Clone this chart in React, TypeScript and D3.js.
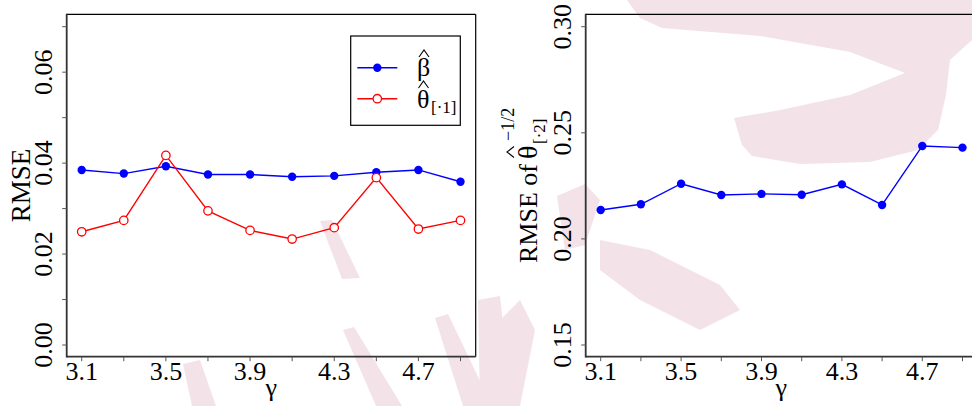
import React from "react";
import * as d3 from "d3";

// ---------- data ----------
const gamma = [3.1, 3.3, 3.5, 3.7, 3.9, 4.1, 4.3, 4.5, 4.7, 4.9];
const gammaLabels = [3.1, 3.5, 3.9, 4.3, 4.7];
const rmseBeta = [0.0385, 0.0377, 0.0393, 0.0375, 0.0375, 0.037, 0.0372, 0.038, 0.0385, 0.0359];
const rmseTheta1 = [0.0249, 0.0274, 0.0417, 0.0295, 0.0252, 0.0233, 0.0258, 0.0368, 0.0255, 0.0274];
const rmseTheta2 = [0.2136, 0.2163, 0.226, 0.2207, 0.2212, 0.2208, 0.2257, 0.216, 0.2438, 0.243];
const leftYTicks = [0, 0.01, 0.02, 0.03, 0.04, 0.05, 0.06, 0.07];
const leftYLabels = [0, 0.02, 0.04, 0.06];
const rightYTicks = [0.15, 0.2, 0.25, 0.3];

// decorative background watermark (not data)
const watermark: [number, number][][] = [
  [[627, 0], [640, 18], [662, 28], [760, 36], [850, 52], [905, 73], [850, 95], [780, 110], [734, 118], [742, 145], [752, 156], [800, 164], [870, 162], [918, 150], [938, 130], [946, 95], [950, 60], [972, 40], [972, 0]],
  [[183, 364], [200, 360], [216, 406], [192, 406]],
  [[320, 221], [332, 220], [360, 278], [342, 279]],
  [[343, 330], [354, 327], [402, 406], [376, 406]],
  [[435, 318], [448, 314], [492, 406], [463, 406]],
  [[478, 300], [500, 296], [512, 406], [480, 406]],
  [[557, 196], [585, 184], [600, 200], [585, 245], [565, 250]],
  [[600, 240], [650, 250], [720, 285], [740, 310], [700, 330], [640, 300], [600, 270]],
  [[490, 330], [520, 300], [535, 330], [520, 406], [490, 406]],
];

const FONT = "'Liberation Serif', 'Times New Roman', serif";
const BLUE = "#0000ff";
const RED = "#ff0000";

function Hat({ cx, y, w = 10, h = 7 }: { cx: number; y: number; w?: number; h?: number }) {
  return (
    <path
      d={`M${cx - w / 2},${y} L${cx},${y - h} L${cx + w / 2},${y}`}
      fill="none"
      stroke="#000"
      strokeWidth={1.1}
    />
  );
}

type PanelProps = {
  left: number;
  right: number;
  top: number;
  bottom: number;
  y: d3.ScaleLinear<number, number>;
  x: d3.ScaleLinear<number, number>;
  yTicks: number[];
  yLabels: number[];
  children?: React.ReactNode;
};

function Panel({ left, right, top, bottom, x, y, yTicks, yLabels, children }: PanelProps) {
  const fmtY = d3.format(".2f");
  const fmtX = d3.format(".1f");
  return (
    <g>
      {children}
      {/* box */}
      <line x1={left} x2={right} y1={top} y2={top} stroke="#000" strokeWidth={1.2} />
      <line x1={right} x2={right} y1={top} y2={bottom} stroke="#000" strokeWidth={1.2} />
      <line x1={left} x2={left} y1={top - 0.6} y2={bottom + 0.8} stroke="#333" strokeWidth={1.8} />
      <line x1={left} x2={right} y1={bottom} y2={bottom} stroke="#333" strokeWidth={1.8} />
      {/* y ticks */}
      {yTicks.map((t) => (
        <line key={"yt" + t} x1={left - 4.5} x2={left} y1={y(t)} y2={y(t)} stroke="#555" strokeWidth={1} />
      ))}
      {yLabels.map((t) => (
        <text
          key={"yl" + t}
          transform={`translate(${left - 15},${y(t)}) rotate(-90)`}
          textAnchor="middle"
          fontFamily={FONT}
          fontSize={26}
          fill="#000"
        >
          {fmtY(t)}
        </text>
      ))}
      {/* x ticks */}
      {gamma.map((g) => (
        <line key={"xt" + g} x1={x(g)} x2={x(g)} y1={bottom} y2={bottom + 4.5} stroke="#555" strokeWidth={1} />
      ))}
      {gammaLabels.map((g) => (
        <text key={"xl" + g} x={x(g)} y={380} textAnchor="middle" fontFamily={FONT} fontSize={26} fill="#000">
          {fmtX(g)}
        </text>
      ))}
      <text x={(left + right) / 2} y={396} textAnchor="middle" fontFamily={FONT} fontSize={26} fill="#000">
        γ
      </text>
    </g>
  );
}

export default function App() {
  const W = 972;
  const H = 406;

  // left panel
  const L1 = 66.7, R1 = 475.7, T = 14.3, B = 356.7;
  const x1 = d3.scaleLinear().domain([3.1, 4.9]).range([81.7, 460.5]);
  const y1 = d3.scaleLinear().domain([0, 0.07]).range([345, 26.7]);

  // right panel
  const L2 = 585.7, R2 = 977;
  const x2 = d3.scaleLinear().domain([3.1, 4.9]).range([600.7, 962.5]);
  const y2 = d3.scaleLinear().domain([0.15, 0.3]).range([345, 26.7]);

  const lineBeta = d3
    .line<number>()
    .x((_, i) => x1(gamma[i]))
    .y((d) => y1(d));
  const lineTheta2 = d3
    .line<number>()
    .x((_, i) => x2(gamma[i]))
    .y((d) => y2(d));

  const wm = d3.line<[number, number]>().curve(d3.curveLinearClosed);

  return (
    <svg
      width={W}
      height={H}
      viewBox={`0 0 ${W} ${H}`}
      style={{ position: "absolute", left: 0, top: 0, background: "#fff" }}
    >
      <rect x={0} y={0} width={W} height={H} fill="#fff" />
      {watermark.map((p, i) => (
        <path key={"wm" + i} d={wm(p) || ""} fill="#f3e3e8" />
      ))}

      {/* Left panel */}
      <Panel left={L1} right={R1} top={T} bottom={B} x={x1} y={y1} yTicks={leftYTicks} yLabels={leftYLabels}>
        <path d={lineBeta(rmseBeta) || ""} fill="none" stroke={BLUE} strokeWidth={1.4} />
        {rmseBeta.map((v, i) => (
          <circle key={"b" + i} cx={x1(gamma[i])} cy={y1(v)} r={4.2} fill={BLUE} />
        ))}
        <path d={lineBeta(rmseTheta1) || ""} fill="none" stroke={RED} strokeWidth={1.4} />
        {rmseTheta1.map((v, i) => (
          <circle key={"t" + i} cx={x1(gamma[i])} cy={y1(v)} r={4.2} fill="#fff" stroke={RED} strokeWidth={1.3} />
        ))}
      </Panel>
      <text
        transform={`translate(30,${(T + B) / 2}) rotate(-90)`}
        textAnchor="middle"
        fontFamily={FONT}
        fontSize={27}
        fill="#000"
      >
        RMSE
      </text>

      {/* Legend */}
      <rect x={350.7} y={36} width={109.6} height={89.3} fill="#fff" stroke="#000" strokeWidth={1.2} />
      <line x1={357.3} x2={397.3} y1={67.7} y2={67.7} stroke={BLUE} strokeWidth={1.4} />
      <circle cx={377.3} cy={67.7} r={4.2} fill={BLUE} />
      <line x1={357.3} x2={397.3} y1={98.7} y2={98.7} stroke={RED} strokeWidth={1.4} />
      <circle cx={377.3} cy={98.7} r={4.2} fill="#fff" stroke={RED} strokeWidth={1.3} />
      <text x={417} y={76} fontFamily={FONT} fontSize={26} fill="#000">β</text>
      <Hat cx={424} y={57} />
      <text x={417} y={108} fontFamily={FONT} fontSize={26} fill="#000">θ</text>
      <Hat cx={423.5} y={88} />
      <text x={431} y={113} fontFamily={FONT} fontSize={17} fill="#000">[·1]</text>

      {/* Right panel */}
      <Panel left={L2} right={R2} top={T} bottom={B} x={x2} y={y2} yTicks={rightYTicks} yLabels={rightYTicks}>
        <path d={lineTheta2(rmseTheta2) || ""} fill="none" stroke={BLUE} strokeWidth={1.4} />
        {rmseTheta2.map((v, i) => (
          <circle key={"r" + i} cx={x2(gamma[i])} cy={y2(v)} r={4.2} fill={BLUE} />
        ))}
      </Panel>
      <g transform={`translate(536.7,263) rotate(-90)`}>
        <text x={0} y={0} fontFamily={FONT} fontSize={26} fill="#000">RMSE of</text>
        <text x={104} y={0} fontFamily={FONT} fontSize={28} fill="#000">θ</text>
        <path d="M105.5,-22.7 L111,-29.7 L116.5,-22.7" fill="none" stroke="#000" strokeWidth={1.1} />
        <text x={122} y={-22.7} fontFamily={FONT} fontSize={18} fill="#000">−1/2</text>
        <text x={119} y={8} fontFamily={FONT} fontSize={17} fill="#000">[·2]</text>
      </g>
    </svg>
  );
}
